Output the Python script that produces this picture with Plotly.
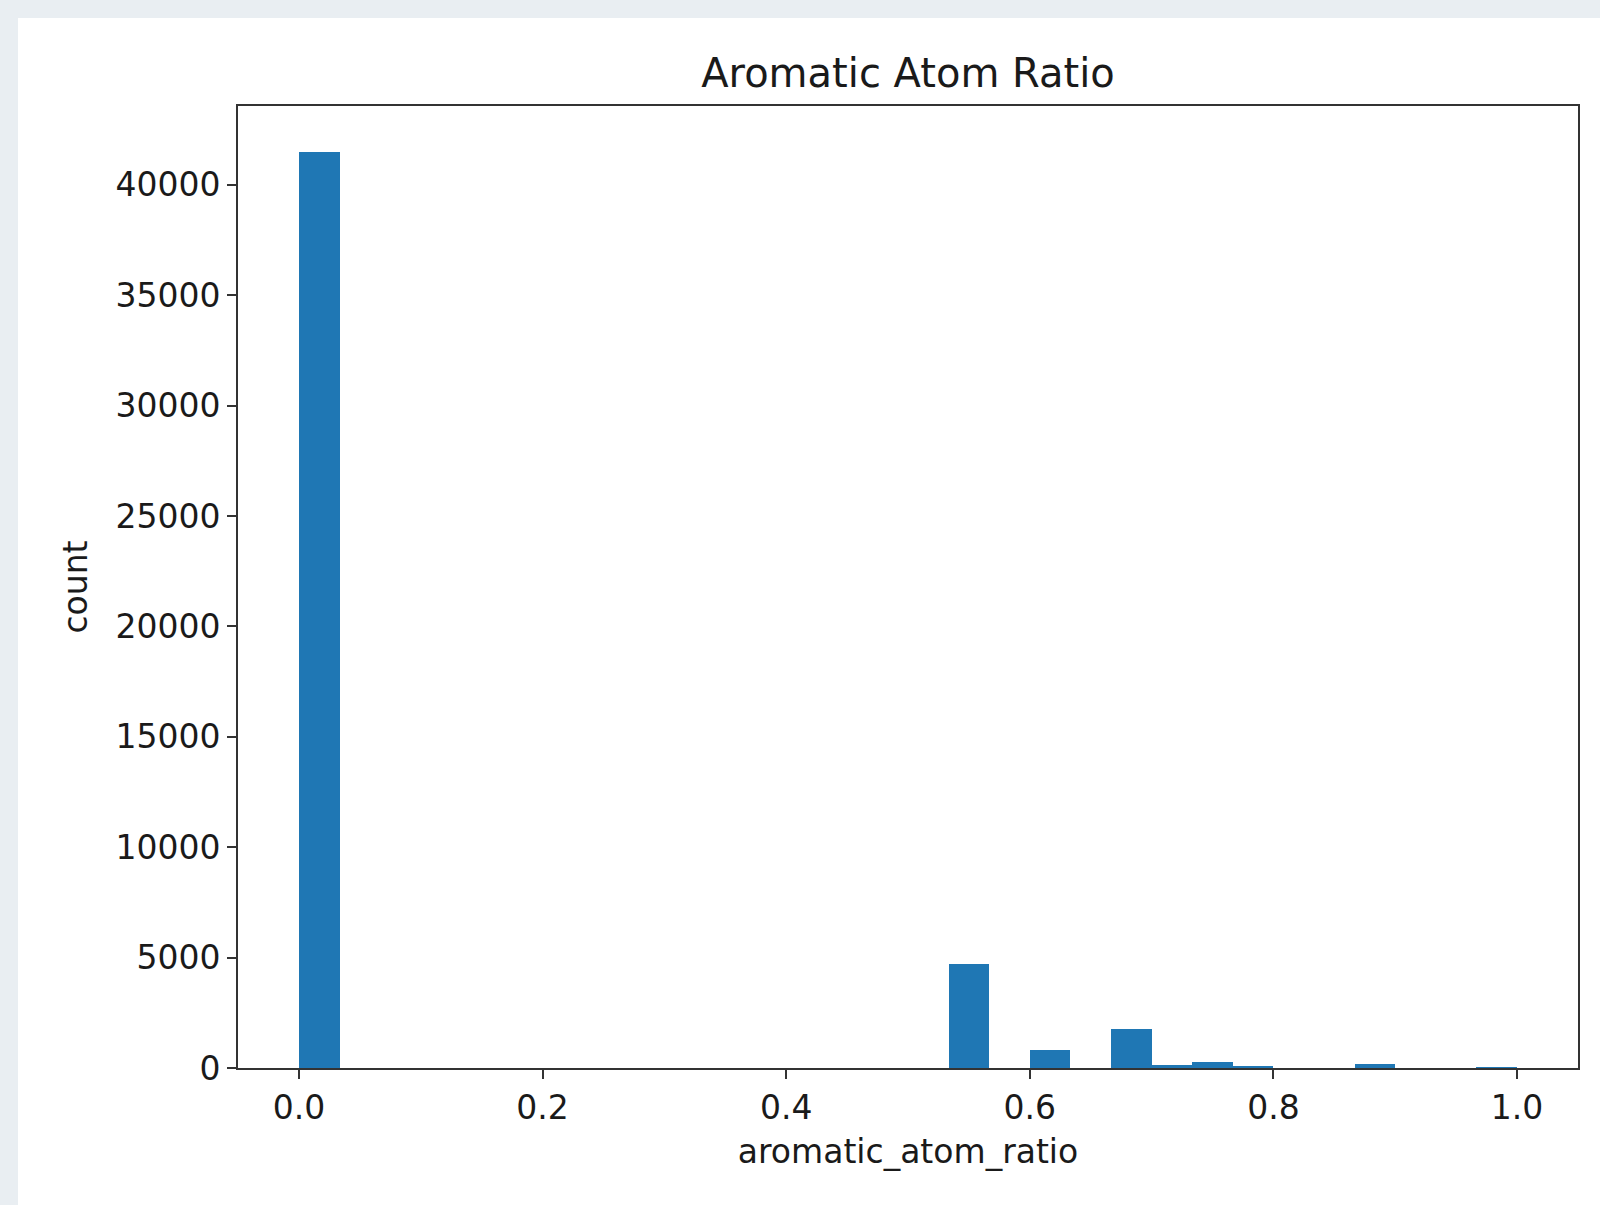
import plotly.graph_objects as go

# Histogram of aromatic_atom_ratio: 30 equal bins over [0, 1]
bin_start = 0.0
bin_end = 1.0
n_bins = 30
counts = [41500, 0, 0, 0, 0, 0, 0, 0, 0, 0,
          0, 0, 0, 0, 0, 0, 4700, 0, 810, 0,
          1760, 130, 290, 60, 0, 0, 170, 0, 0, 45]
x_ticks = [0.0, 0.2, 0.4, 0.6, 0.8, 1.0]
y_ticks = [0, 5000, 10000, 15000, 20000, 25000, 30000, 35000, 40000]

bw = (bin_end - bin_start) / n_bins
lefts = [bin_start + i * bw for i in range(n_bins)]

fig = go.Figure()
fig.add_trace(go.Bar(
    x=lefts, y=counts, width=[bw] * n_bins, offset=0,
    marker=dict(color="#1f77b4", line=dict(width=0)),
    hoverinfo="x+y",
))

W, H = 1600, 1205
L, R, T, B = 238, 1578, 106, 1068
fnt = "DejaVu Sans, sans-serif"

# white card behind the figure
pw, ph = R - L, B - T
fig.add_shape(type="rect", xref="paper", yref="paper", layer="below",
              x0=(18 - L) / pw, x1=(W - L) / pw + 0.01,
              y0=(B - H) / ph - 0.01, y1=(B - 18) / ph,
              fillcolor="white", line=dict(width=0))

ymax = max(counts) * 1.05
fig.update_layout(
    width=W, height=H,
    margin=dict(l=L, r=W - R, t=T, b=H - B),
    paper_bgcolor="#e9eef2", plot_bgcolor="white",
    showlegend=False, bargap=0,
    title=dict(text="Aromatic Atom Ratio", x=(L + R) / 2 / W, xanchor="center",
               y=1 - 73 / H, yanchor="middle",
               font=dict(family=fnt, size=40, color="#1a1a1a")),
    font=dict(family=fnt, color="#1a1a1a"),
)
fig.update_xaxes(
    range=[-0.05, 1.05], tickvals=x_ticks, tickformat=".1f",
    showgrid=False, zeroline=False,
    showline=True, mirror=True, linecolor="#333", linewidth=2,
    ticks="outside", ticklen=9, tickwidth=2, tickcolor="#333",
    tickfont=dict(family=fnt, size=33, color="#1a1a1a"),
    title=dict(text="aromatic_atom_ratio", standoff=14,
               font=dict(family=fnt, size=33, color="#1a1a1a")),
)
fig.update_yaxes(
    range=[0, ymax], tickvals=y_ticks, tickformat="d",
    showgrid=False, zeroline=False,
    showline=True, mirror=True, linecolor="#333", linewidth=2,
    ticks="outside", ticklen=9, tickwidth=2, tickcolor="#333",
    tickfont=dict(family=fnt, size=33, color="#1a1a1a"),
    title=dict(text="count", standoff=18,
               font=dict(family=fnt, size=33, color="#1a1a1a")),
)

fig.write_html("out.html", config={"displayModeBar": False},
               post_script="document.body.style.margin='0';document.body.style.overflow='hidden';")
